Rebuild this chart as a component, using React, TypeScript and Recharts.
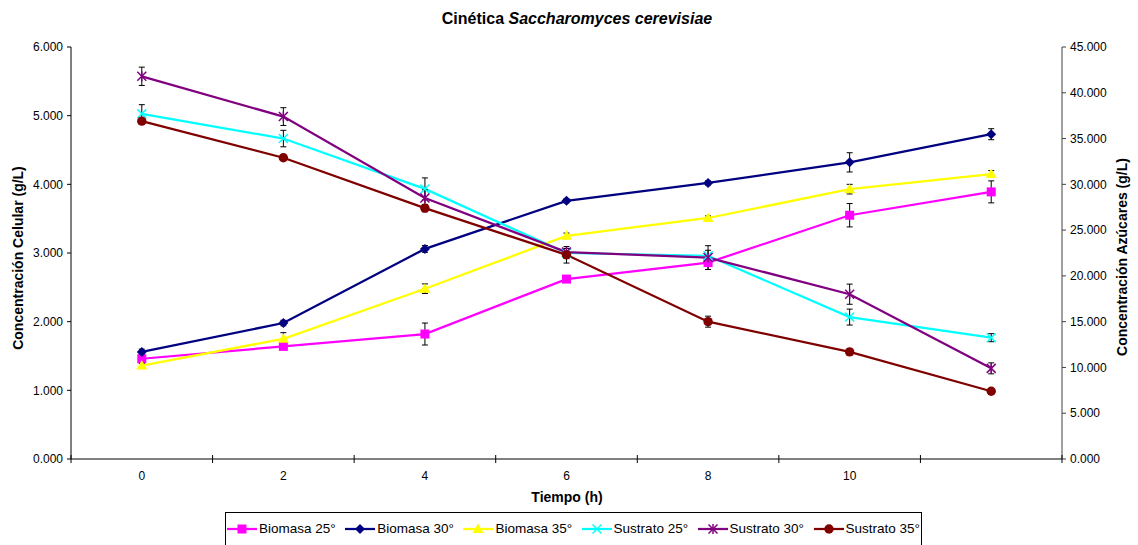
import React from "react";
import { LineChart, Line, XAxis, YAxis, ErrorBar } from "recharts";

// tiempo (h) de cada muestreo; la última categoría no lleva etiqueta
const tiempo = [0, 2, 4, 6, 8, 10, 12];
const xTickLabels = ["0", "2", "4", "6", "8", "10"];
const celularTicks = [0, 1, 2, 3, 4, 5, 6];
const azucarTicks = [0, 5, 10, 15, 20, 25, 30, 35, 40, 45];

// biomasa (g/L) - eje izquierdo
const biomasa25 = [1.46, 1.64, 1.82, 2.62, 2.86, 3.55, 3.89];
const biomasa25Err = [0.05, 0.04, 0.16, 0.05, 0.1, 0.17, 0.16];
const biomasa30 = [1.56, 1.98, 3.06, 3.76, 4.02, 4.32, 4.73];
const biomasa30Err = [0.04, 0.04, 0.05, 0.03, 0.03, 0.14, 0.08];
const biomasa35 = [1.36, 1.75, 2.48, 3.25, 3.51, 3.93, 4.15];
const biomasa35Err = [0.03, 0.09, 0.07, 0.04, 0.03, 0.07, 0.05];

// sustrato (g/L) - eje derecho
const sustrato25 = [37.7, 35.0, 29.5, 22.5, 22.2, 15.5, 13.25];
const sustrato25Err = [1.0, 0.9, 1.2, 0.5, 0.6, 0.87, 0.44];
const sustrato30 = [41.8, 37.4, 28.5, 22.6, 22.0, 18.0, 9.9];
const sustrato30Err = [1.0, 0.97, 0.9, 0.4, 1.3, 1.1, 0.6];
const sustrato35 = [36.9, 32.9, 27.4, 22.3, 15.0, 11.7, 7.4];
const sustrato35Err = [0.3, 0.3, 0.4, 0.9, 0.6, 0.2, 0.1];

type Shape = "square" | "diamond" | "triangle" | "cross" | "star" | "circle";

const series: {
  key: string;
  name: string;
  color: string;
  shape: Shape;
  axis: "cel" | "az";
  values: number[];
  err: number[];
}[] = [
  { key: "b25", name: "Biomasa 25°", color: "#FF00FF", shape: "square", axis: "cel", values: biomasa25, err: biomasa25Err },
  { key: "b30", name: "Biomasa 30°", color: "#000080", shape: "diamond", axis: "cel", values: biomasa30, err: biomasa30Err },
  { key: "b35", name: "Biomasa 35°", color: "#FFFF00", shape: "triangle", axis: "cel", values: biomasa35, err: biomasa35Err },
  { key: "s25", name: "Sustrato 25°", color: "#00FFFF", shape: "cross", axis: "az", values: sustrato25, err: sustrato25Err },
  { key: "s30", name: "Sustrato 30°", color: "#800080", shape: "star", axis: "az", values: sustrato30, err: sustrato30Err },
  { key: "s35", name: "Sustrato 35°", color: "#800000", shape: "circle", axis: "az", values: sustrato35, err: sustrato35Err },
];

const rows = tiempo.map((t, i) => {
  const r: Record<string, number> = { t };
  series.forEach((s) => {
    r[s.key] = s.values[i];
    r[s.key + "Err"] = s.err[i];
  });
  return r;
});

const font = "'Liberation Sans', Arial, sans-serif";

function Marker({ shape, color, cx, cy }: { shape: Shape; color: string; cx: number; cy: number }) {
  switch (shape) {
    case "square":
      return <rect x={cx - 4.5} y={cy - 4.5} width={9} height={9} fill={color} />;
    case "diamond":
      return <polygon points={`${cx},${cy - 5} ${cx + 5},${cy} ${cx},${cy + 5} ${cx - 5},${cy}`} fill={color} />;
    case "triangle":
      return <polygon points={`${cx},${cy - 5.5} ${cx + 5.5},${cy + 4} ${cx - 5.5},${cy + 4}`} fill={color} />;
    case "cross":
      return (
        <g stroke={color} strokeWidth={1.5}>
          <line x1={cx - 4.5} y1={cy - 4.5} x2={cx + 4.5} y2={cy + 4.5} />
          <line x1={cx - 4.5} y1={cy + 4.5} x2={cx + 4.5} y2={cy - 4.5} />
        </g>
      );
    case "star":
      return (
        <g stroke={color} strokeWidth={1.5}>
          <line x1={cx - 4.5} y1={cy - 4.5} x2={cx + 4.5} y2={cy + 4.5} />
          <line x1={cx - 4.5} y1={cy + 4.5} x2={cx + 4.5} y2={cy - 4.5} />
          <line x1={cx} y1={cy - 5} x2={cx} y2={cy + 5} />
        </g>
      );
    default:
      return <circle cx={cx} cy={cy} r={4.7} fill={color} />;
  }
}

// marcas entre categorías (valores impares) y etiquetas en los valores pares
function TimeTick(props: any) {
  const { x, y, payload } = props;
  const v = payload.value as number;
  if (Math.abs(v % 2) === 1) {
    return <line x1={x} y1={y - 4} x2={x} y2={y + 4} stroke="#000" strokeWidth={1} />;
  }
  const label = xTickLabels[tiempo.indexOf(v)];
  if (label === undefined) return <g />;
  return (
    <text x={x} y={y + 21} textAnchor="middle" fontSize={12} fill="#000" fontFamily={font}>
      {label}
    </text>
  );
}

const timeTicks = [-1, 0, 1, 2, 3, 4, 5, 6, 7, 8, 9, 10, 11, 12, 13];

const axisTitle: React.CSSProperties = {
  position: "absolute",
  whiteSpace: "nowrap",
  fontSize: 14,
  fontWeight: "bold",
};

export default function App() {
  return (
    <div
      style={{
        position: "absolute",
        left: 0,
        top: 0,
        width: 1138,
        height: 545,
        background: "#fff",
        fontFamily: font,
        overflow: "hidden",
      }}
    >
      <LineChart width={1138} height={545} data={rows} margin={{ top: 47, right: 10, bottom: 56, left: 11 }}>
        <XAxis
          dataKey="t"
          type="number"
          domain={[-1, 13]}
          ticks={timeTicks}
          interval={0}
          height={30}
          tickSize={0}
          tickMargin={0}
          tickLine={false}
          axisLine={{ stroke: "#808080", strokeWidth: 2 }}
          tick={<TimeTick />}
        />
        <YAxis
          yAxisId="cel"
          orientation="left"
          width={60}
          domain={[0, 6]}
          ticks={celularTicks}
          interval={0}
          tickSize={4}
          tickMargin={4}
          tickFormatter={(v: number) => v.toFixed(3)}
          tick={{ fontSize: 12, fill: "#000", fontFamily: font }}
          axisLine={{ stroke: "#000" }}
          tickLine={{ stroke: "#000" }}
        />
        <YAxis
          yAxisId="az"
          orientation="right"
          width={66}
          domain={[0, 45]}
          ticks={azucarTicks}
          interval={0}
          tickSize={4}
          tickMargin={4}
          tickFormatter={(v: number) => v.toFixed(3)}
          tick={{ fontSize: 12, fill: "#000", fontFamily: font }}
          axisLine={{ stroke: "#404040" }}
          tickLine={{ stroke: "#404040" }}
        />
        {series.map((s) => (
          <Line
            key={s.key}
            yAxisId={s.axis}
            dataKey={s.key}
            name={s.name}
            type="linear"
            stroke={s.color}
            strokeWidth={2.25}
            isAnimationActive={false}
            activeDot={false}
            dot={(p: any) => (
              <Marker key={`${s.key}-${p.index}`} shape={s.shape} color={s.color} cx={p.cx} cy={p.cy} />
            )}
          >
            <ErrorBar
              dataKey={s.key + "Err"}
              direction="y"
              width={3}
              stroke="#000"
              strokeWidth={1}
              isAnimationActive={false}
            />
          </Line>
        ))}
      </LineChart>

      <div
        style={{
          position: "absolute",
          top: 9,
          left: 8,
          width: 1138,
          textAlign: "center",
          fontSize: 16,
          fontWeight: "bold",
          lineHeight: "20px",
        }}
      >
        Cinética <i>Saccharomyces cerevisiae</i>
      </div>

      <div style={{ ...axisTitle, left: 18, top: 258, transform: "translate(-50%, -50%) rotate(-90deg)" }}>
        Concentración Celular (g/L)
      </div>

      <div style={{ ...axisTitle, left: 1122, top: 257, transform: "translate(-50%, -50%) rotate(-90deg)" }}>
        Concentración Azúcares (g/L)
      </div>

      <div style={{ ...axisTitle, left: 567, top: 497, transform: "translate(-50%, -50%)" }}>Tiempo (h)</div>

      <div
        style={{
          position: "absolute",
          left: 225,
          top: 512,
          width: 697,
          height: 40,
          boxSizing: "border-box",
          border: "1px solid #000",
          display: "flex",
          alignItems: "flex-start",
          paddingTop: 8,
          paddingLeft: 1,
          fontSize: 13.5,
        }}
      >
        {series.map((s) => (
          <div key={s.key} style={{ display: "flex", alignItems: "center", marginRight: 9.5 }}>
            <svg width={30} height={14} style={{ marginRight: 2 }}>
              <line x1={0} y1={7} x2={30} y2={7} stroke={s.color} strokeWidth={2.25} />
              <Marker shape={s.shape} color={s.color} cx={15} cy={7} />
            </svg>
            <span style={{ whiteSpace: "nowrap" }}>{s.name}</span>
          </div>
        ))}
      </div>
    </div>
  );
}
